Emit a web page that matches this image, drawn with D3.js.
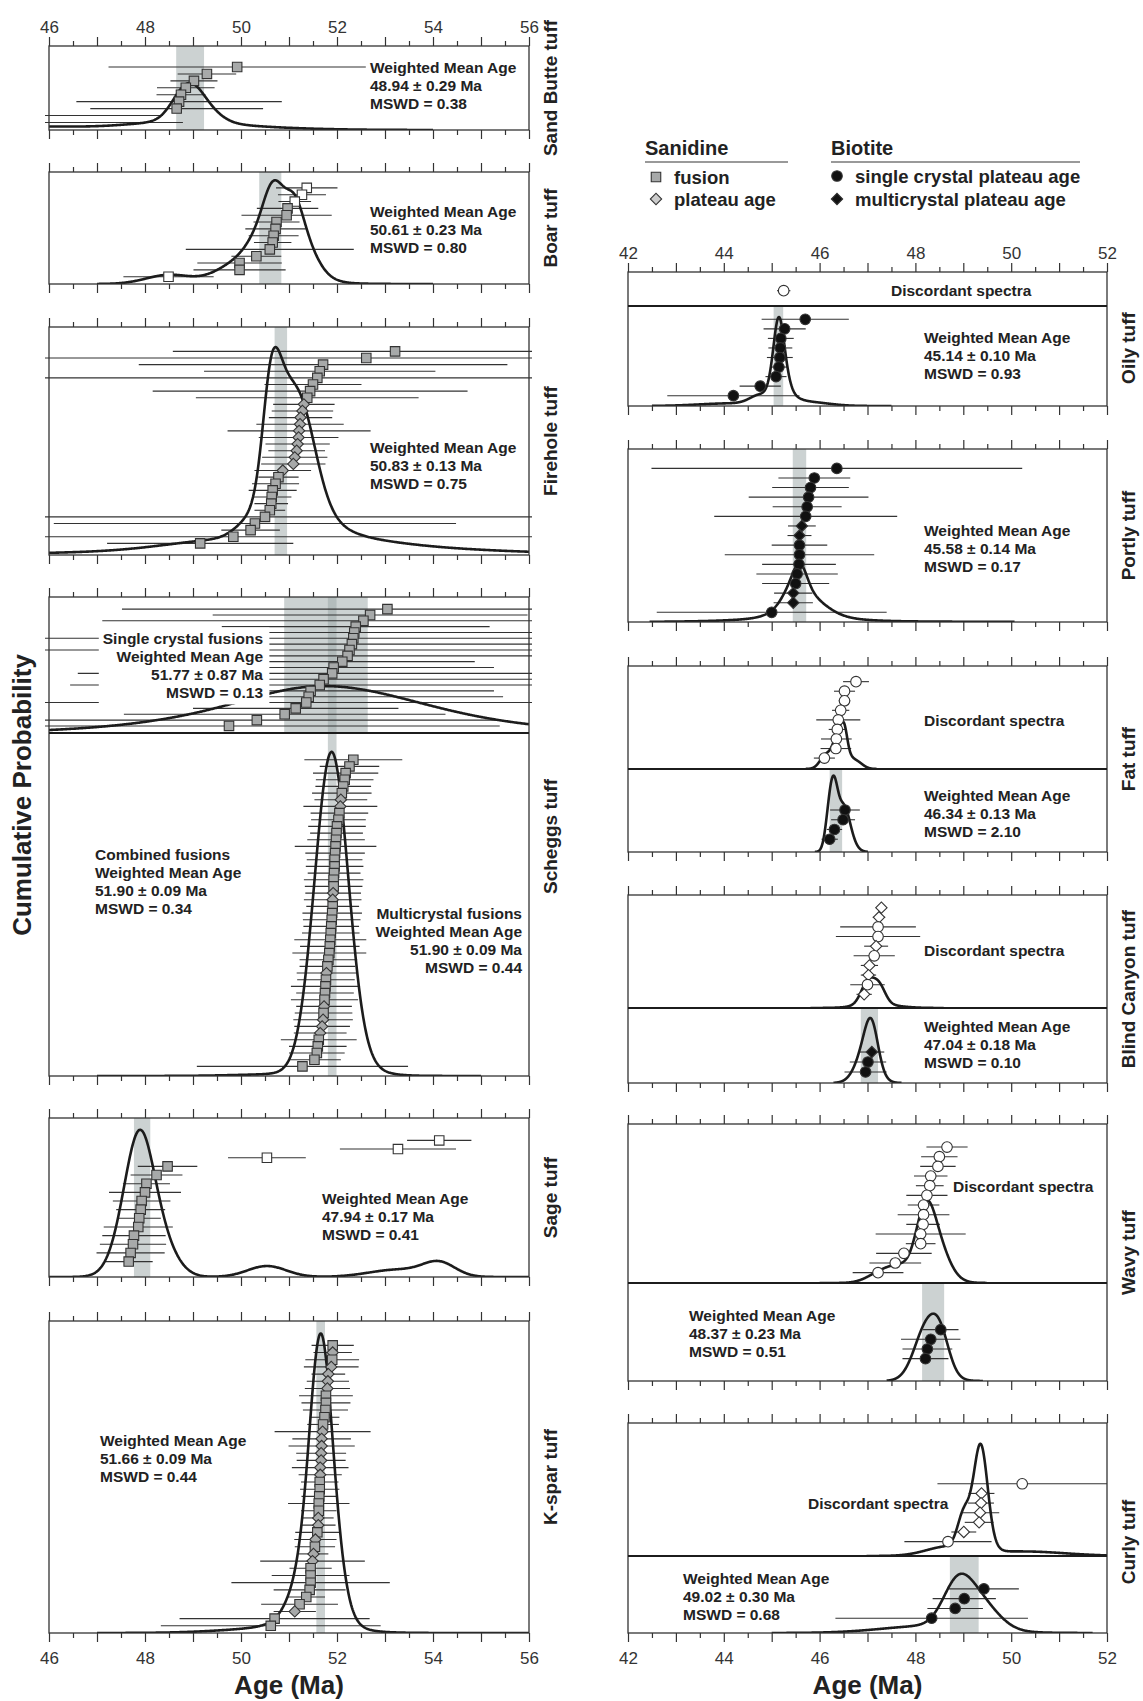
<!DOCTYPE html>
<html lang="en">
<head>
<meta charset="utf-8">
<title>Tuff ages - probability plots</title>
<script src="https://d3js.org/d3.v7.min.js"></script>
<style>
  body { margin: 0; background: #fff; }
  text { font-family: "Liberation Sans", Arial, Helvetica, sans-serif; fill: #222; }
</style>
</head>
<body>
<script>
// ---- data: ages (Ma) and errors, listed top to bottom as stacked in each panel ----
// type codes: g grey square (fusion), d grey diamond (plateau), w white square (excluded),
//             c black circle, k black diamond, o white circle, v white diamond
const sbAge = [49.92, 49.29, 49.02, 48.85, 48.75, 48.71, 48.66, 45.0, 45.3];
const sbErr = [2.68, 0.61, 0.49, 0.60, 0.51, 2.14, 1.80, 3.37, 3.49];
const sbType = "ggggggggg";

const boAge = [51.37, 51.27, 51.12, 50.97, 50.95, 50.74, 50.72, 50.68, 50.66, 50.60, 50.32, 49.97, 49.97, 48.49];
const boErr = [0.64, 0.50, 0.34, 0.64, 0.94, 0.48, 0.63, 0.52, 0.39, 1.75, 0.52, 0.88, 0.96, 0.94];
const boType = "wwwggggggggggw";

const fhAge = [53.21, 52.61, 51.71, 51.64, 51.59, 51.50, 51.44, 51.38, 51.31, 51.28, 51.24, 51.23, 51.21, 51.20, 51.18,
               51.16, 51.12, 51.09, 50.87, 50.78, 50.72, 50.66, 50.64, 50.63, 50.60, 50.50, 50.29, 50.20, 49.84, 49.15];
const fhErr = [4.63, 7, 3.84, 2.41, 7, 1.01, 3.28, 2.32, 0.64, 0.64, 0.66, 0.91, 1.49, 0.83, 0.67,
               0.59, 0.68, 0.67, 0.59, 0.42, 0.49, 0.50, 0.41, 0.35, 0.32, 7, 4.19, 0.61, 7, 1.94];
const fhType = "ggggggggdddddddddddggggggggggg";

const scTopAge = [53.05, 52.69, 52.55, 52.39, 52.36, 52.34, 52.31, 52.26, 52.22, 52.11, 51.93, 51.90, 51.72, 51.64,
                  51.45, 51.41, 51.36, 51.14, 50.91, 50.33, 49.75];
const scTopErr = [5.53, 3.28, 5.44, 2.79, 5.0, 6.5, 5.0, 6.5, 5.0, 2.76, 3.34, 5.3, 4.5, 5.2, 3.82, 4.05, 6, 2.14, 3.35, 5, 5.64];
const scTopType = "ggggggggggggggggggggg";

const scBotAge = [52.34, 52.26, 52.18, 52.16, 52.13, 52.10, 52.08, 52.07, 52.05, 52.03, 52.00, 51.99, 51.98, 51.97, 51.96,
                  51.95, 51.95, 51.94, 51.93, 51.93, 51.92, 51.91, 51.91, 51.90, 51.89, 51.88, 51.87, 51.86, 51.85, 51.84,
                  51.82, 51.80, 51.78, 51.77, 51.76, 51.75, 51.74, 51.73, 51.72, 51.71, 51.69, 51.65, 51.62, 51.60, 51.58,
                  51.53, 51.28];
const scBotErr = [1.02, 0.62, 0.68, 0.6, 0.58, 0.62, 0.55, 0.77, 0.6, 0.57, 0.6, 0.55, 0.6, 0.85, 0.62,
                  0.58, 0.6, 0.55, 0.62, 0.6, 0.58, 0.6, 0.55, 0.62, 0.6, 0.58, 0.6, 0.75, 0.62, 0.77,
                  0.6, 0.58, 0.62, 0.6, 0.72, 0.6, 0.7, 0.58, 0.6, 0.62, 0.58, 0.55, 0.79, 0.6, 0.58,
                  0.55, 2.2];
const scBotType = "ggggggddggggggggggggddggggggggggdggggdgdddggggg";

const sgAge = [54.13, 53.27, 50.54, 48.47, 48.24, 48.03, 48.00, 47.93, 47.91, 47.88, 47.86, 47.77, 47.75, 47.70, 47.66];
const sgErr = [0.67, 1.21, 0.81, 0.62, 0.54, 0.49, 0.75, 0.60, 0.51, 0.45, 0.72, 0.66, 0.69, 0.71, 0.50];
const sgType = "wwwgggggggggggg";

const ksAge = [51.91, 51.91, 51.90, 51.88, 51.82, 51.81, 51.80, 51.77, 51.77, 51.76, 51.74, 51.71, 51.70, 51.68, 51.68,
               51.67, 51.67, 51.65, 51.65, 51.64, 51.64, 51.63, 51.62, 51.62, 51.61, 51.61, 51.59, 51.55, 51.54, 51.51,
               51.49, 51.45, 51.45, 51.45, 51.43, 51.36, 51.22, 51.12, 50.70, 50.62];
const ksErr = [0.44, 0.40, 0.56, 0.57, 0.35, 0.44, 0.47, 0.56, 0.51, 0.47, 0.31, 0.33, 1.0, 0.61, 0.69,
               0.52, 0.51, 0.59, 0.45, 0.39, 0.41, 0.37, 0.64, 0.37, 0.32, 0.36, 0.46, 0.44, 0.42, 0.31,
               1.09, 0.44, 0.81, 1.65, 0.75, 0.39, 0.80, 0.44, 1.98, 2.29];
const ksType = "gdgddddgggggdddddddgggggddgdgddggggggdgg";

const olTopAge = [45.25], olTopErr = [0.14], olTopType = "o";
const olAge = [45.70, 45.27, 45.19, 45.18, 45.17, 45.15, 45.09, 44.76, 44.20];
const olErr = [0.91, 0.44, 0.27, 0.25, 0.27, 0.18, 0.22, 0.43, 1.38];
const olType = "ccccccccc";

const ptAge = [46.36, 45.89, 45.81, 45.77, 45.74, 45.71, 45.63, 45.58, 45.58, 45.58, 45.57, 45.53, 45.50, 45.45, 45.45, 45.00];
const ptErr = [3.87, 0.75, 0.80, 1.25, 0.72, 1.91, 0.29, 0.25, 0.58, 1.56, 0.77, 0.85, 0.70, 0.40, 0.41, 2.40];
const ptType = "cccccckkccccckkc";

const ftTopAge = [46.76, 46.52, 46.52, 46.44, 46.39, 46.37, 46.35, 46.34, 46.10];
const ftTopErr = [0.27, 0.22, 0.12, 0.18, 0.46, 0.18, 0.32, 0.32, 0.22];
const ftTopType = "ooooooooo";
const ftAge = [46.53, 46.49, 46.31, 46.21], ftErr = [0.31, 0.25, 0.16, 0.17], ftType = "cccc";

const bcTopAge = [47.29, 47.24, 47.22, 47.22, 47.18, 47.14, 47.04, 47.02, 47.00, 46.93];
const bcTopErr = [0.10, 0.13, 0.79, 0.88, 0.25, 0.43, 0.18, 0.16, 0.36, 0.16];
const bcTopType = "vvoovovvov";
const bcAge = [47.09, 47.01, 46.96], bcErr = [0.26, 0.38, 0.44], bcType = "kcc";

const wvTopAge = [48.66, 48.50, 48.47, 48.32, 48.30, 48.24, 48.17, 48.17, 48.16, 48.11, 48.11, 47.76, 47.58, 47.22];
const wvTopErr = [0.43, 0.38, 0.37, 0.35, 0.29, 0.43, 0.33, 0.54, 0.35, 0.94, 0.31, 0.58, 0.54, 0.53];
const wvTopType = "oooooooooooooo";
const wvAge = [48.53, 48.32, 48.25, 48.21], wvErr = [0.37, 0.62, 0.52, 0.48], wvType = "cccc";

const cuTopAge = [50.23, 49.38, 49.37, 49.35, 49.33, 49.01, 48.68];
const cuTopErr = [1.77, 0.27, 0.27, 0.40, 0.30, 0.26, 0.91];
const cuTopType = "ovvvvvo";
const cuAge = [49.43, 49.02, 48.83, 48.34], cuErr = [0.73, 0.66, 0.58, 2.01], cuType = "cccc";

// weighted mean results
const resLabel = ["", "", "", "Single crystal fusions", "Combined fusions", "Multicrystal fusions", "", "",
                  "", "", "", "", "", ""];
const resMean = [48.94, 50.61, 50.83, 51.77, 51.90, 51.90, 47.94, 51.66, 45.14, 45.58, 46.34, 47.04, 48.37, 49.02];
const resErr  = [0.29, 0.23, 0.13, 0.87, 0.09, 0.09, 0.17, 0.09, 0.10, 0.14, 0.13, 0.18, 0.23, 0.30];
const resMswd = [0.38, 0.80, 0.75, 0.13, 0.34, 0.44, 0.41, 0.44, 0.93, 0.17, 2.10, 0.10, 0.51, 0.68];

// ---- layout ----
const panels = [
  { label: "Sand Butte tuff", col: 0, edges: [46, 130], labTop: true,
    subs: [{ a: sbAge, e: sbErr, t: sbType, p: [0.75, 0.09], curve: [46, 54], peak: 0.56 }],
    bands: [[0, -1]], notes: [{ res: 0, x: 370, y: 68 }] },
  { label: "Boar tuff", col: 0, edges: [172, 284],
    subs: [{ a: boAge, e: boErr, t: boType, p: [0.858, 0.065], curve: [47, 54], peak: 0.926 }],
    bands: [[1, -1]], notes: [{ res: 1, x: 370, y: 212 }] },
  { label: "Firehole tuff", col: 0, edges: [327, 555],
    subs: [{ a: fhAge, e: fhErr, t: fhType, p: [0.893, 0.051], curve: [46, 56], peak: 0.912 }],
    bands: [[2, -1]], notes: [{ res: 2, x: 370, y: 448 }] },
  { label: "Scheggs tuff", col: 0, edges: [597, 733, 1076],
    subs: [{ a: scTopAge, e: scTopErr, t: scTopType, p: [0.911, 0.052], curve: [46, 56], peak: 0.345 },
           { a: scBotAge, e: scBotErr, t: scBotType, p: [0.922, 0.028], curve: [47, 55], peak: 0.945 }],
    bands: [[3, 0], [4, -1]],
    notes: [{ res: 3, x: 263, y: 639, anchor: "end", bg: true }, { res: 4, x: 95, y: 855 },
            { res: 5, x: 522, y: 914, anchor: "end" }] },
  { label: "Sage tuff", col: 0, edges: [1118, 1277],
    subs: [{ a: sgAge, e: sgErr, t: sgType, p: [0.859, 0.097], curve: [46, 56], peak: 0.926 }],
    bands: [[6, -1]], notes: [{ res: 6, x: 322, y: 1199 }] },
  { label: "K-spar tuff", col: 0, edges: [1321, 1633], labBottom: true,
    subs: [{ a: ksAge, e: ksErr, t: ksType, p: [0.922, 0.023], curve: [47, 56], peak: 0.96 }],
    bands: [[7, -1]], notes: [{ res: 7, x: 100, y: 1441 }] },

  { label: "Oily tuff", col: 1, edges: [272, 306, 406], labTop: true, lblOff: 9,
    subs: [{ a: olTopAge, e: olTopErr, t: olTopType, p: [0.45, 0.45], curve: null },
           { a: olAge, e: olErr, t: olType, p: [0.867, 0.103], curve: [42.5, 47.5], peak: 0.89 }],
    bands: [[8, 1]], notes: [{ txt: "Discordant spectra", x: 891, y: 291 }, { res: 8, x: 924, y: 338 }] },
  { label: "Portly tuff", col: 1, edges: [449, 622],
    subs: [{ a: ptAge, e: ptErr, t: ptType, p: [0.888, 0.056], curve: [42.45, 50.07], peak: 0.34 }],
    bands: [[9, -1]], notes: [{ res: 9, x: 924, y: 531 }] },
  { label: "Fat tuff", col: 1, edges: [666, 769, 852],
    subs: [{ a: ftTopAge, e: ftTopErr, t: ftTopType, p: [0.848, 0.106], curve: [45.71, 47.2], peak: 0.46 },
           { a: ftAge, e: ftErr, t: ftType, p: [0.506, 0.154], curve: [45.9, 47.01], peak: 0.92 }],
    bands: [[10, 1]], notes: [{ txt: "Discordant spectra", x: 924, y: 721 }, { res: 10, x: 924, y: 796 }] },
  { label: "Blind Canyon tuff", col: 1, edges: [895, 1008, 1083],
    subs: [{ a: bcTopAge, e: bcTopErr, t: bcTopType, p: [0.888, 0.121], curve: [45.81, 48.59], peak: 0.27, bw: 0.12 },
           { a: bcAge, e: bcErr, t: bcType, p: [0.413, 0.147], curve: [46.29, 47.71], peak: 0.867 }],
    bands: [[11, 1]], notes: [{ txt: "Discordant spectra", x: 924, y: 951 }, { res: 11, x: 924, y: 1027 }] },
  { label: "Wavy tuff", col: 1, edges: [1124, 1283, 1381],
    subs: [{ a: wvTopAge, e: wvTopErr, t: wvTopType, p: [0.855, 0.065], curve: [46.0, 49.49], peak: 0.52 },
           { a: wvAge, e: wvErr, t: wvType, p: [0.524, 0.228], curve: [47.4, 49.41], peak: 0.687 }],
    bands: [[12, 1]], notes: [{ txt: "Discordant spectra", x: 953, y: 1187 }, { res: 12, x: 689, y: 1316 }] },
  { label: "Curly tuff", col: 1, edges: [1423, 1556, 1633], labBottom: true, lblOff: 14,
    subs: [{ a: cuTopAge, e: cuTopErr, t: cuTopType, p: [0.543, 0.108], curve: [46.98, 52], peak: 0.844 },
           { a: cuAge, e: cuErr, t: cuType, p: [0.573, 0.192], curve: [45.0, 51.7], peak: 0.77 }],
    bands: [[13, 1]], notes: [{ txt: "Discordant spectra", x: 808, y: 1504 }, { res: 13, x: 683, y: 1579 }] }
];

const GREY = "#a7a9a9";
const sym = {
  g: { type: d3.symbolSquare, size: 90, fill: GREY, rot: 0 },
  w: { type: d3.symbolSquare, size: 90, fill: "#fff", rot: 0 },
  d: { type: d3.symbolSquare, size: 64, fill: GREY, rot: 45 },
  v: { type: d3.symbolSquare, size: 64, fill: "#fff", rot: 45 },
  k: { type: d3.symbolSquare, size: 64, fill: "#111", rot: 45 },
  c: { type: d3.symbolCircle, size: 88, fill: "#111", rot: 0 },
  o: { type: d3.symbolCircle, size: 88, fill: "#fff", rot: 0 }
};

// probability density: sum of gaussians, error bars taken as 2 sigma
function density(ages, errs, lo, hi, bw) {
  return d3.range(0, 601).map(i => {
    const t = lo + (hi - lo) * i / 600;
    const s = d3.sum(ages, (a, j) => {
      const sd = Math.max(errs[j] / 2, bw || 0);
      return Math.exp(-0.5 * ((t - a) / sd) ** 2) / sd;
    });
    return [t, s];
  });
}

const fmt = d3.format(".2f");
const svg = d3.select("body").append("svg").attr("width", 1143).attr("height", 1701);
const xScales = [d3.scaleLinear().domain([46, 56]).range([49, 529]),
                 d3.scaleLinear().domain([42, 52]).range([628, 1107])];

panels.forEach((P, pi) => {
  const x = xScales[P.col];
  const [x0, x1] = x.range(), [d0, d1] = x.domain();
  const E = P.edges, top = E[0], bot = E[E.length - 1];
  const g = svg.append("g");

  // weighted mean bands
  P.bands.forEach(([r, s]) => {
    const yt = s < 0 ? top : E[s], yb = s < 0 ? bot : E[s + 1];
    const bx0 = x(resMean[r] - resErr[r]), bx1 = x(resMean[r] + resErr[r]);
    g.append("rect").attr("x", bx0).attr("width", bx1 - bx0).attr("y", yt).attr("height", yb - yt)
      .attr("fill", "#99a5a5").attr("fill-opacity", 0.5);
  });

  const layers = P.subs.map((S, si) => ({
    S, si,
    y: d3.scaleLinear().domain([0, 1]).range([E[si + 1], E[si]]),
    rank: d3.scaleLinear().domain([0, Math.max(1, S.a.length - 1)]).range(S.p)
  }));

  // error bars
  layers.forEach(({ S, y, rank }) => {
    g.append("g").selectAll("line").data(S.a).join("line")
      .attr("x1", (a, i) => Math.max(x0 - 4, x(a - S.e[i])))
      .attr("x2", (a, i) => Math.min(x1 + 3, x(a + S.e[i])))
      .attr("y1", (a, i) => y(rank(i)))
      .attr("y2", (a, i) => y(rank(i)))
      .attr("stroke", "#333").attr("stroke-width", 1.1);
  });

  // probability curves
  layers.forEach(({ S, si, y }) => {
    if (!S.curve) return;
    const id = `clip${pi}_${si}`;
    svg.append("clipPath").attr("id", id).append("rect")
      .attr("x", x0).attr("y", E[si] - 1).attr("width", x1 - x0).attr("height", E[si + 1] - E[si] + 1);
    const pts = density(S.a, S.e, S.curve[0], S.curve[1], S.bw);
    const mx = d3.max(pts, d => d[1]);
    g.append("path").attr("clip-path", `url(#${id})`)
      .attr("d", d3.line().x(d => x(d[0])).y(d => y(d[1] / mx * S.peak))(pts))
      .attr("fill", "none").attr("stroke", "#1c1c1c").attr("stroke-width", 2.6)
      .attr("stroke-linejoin", "round");
  });

  // annotations
  P.notes.forEach(N => {
    const lines = N.txt ? [N.txt] : [resLabel[N.res], "Weighted Mean Age",
      `${fmt(resMean[N.res])} ± ${fmt(resErr[N.res])} Ma`, `MSWD = ${fmt(resMswd[N.res])}`].filter(Boolean);
    const tg = g.append("g");
    const t = tg.append("text").attr("font-size", 15.5).attr("font-weight", "bold")
      .attr("text-anchor", N.anchor || "start");
    lines.forEach((l, i) => t.append("tspan").attr("x", N.x).attr("y", N.y + i * 18).attr("dy", "0.35em").text(l));
    if (N.bg) {
      const b = t.node().getBBox();
      tg.insert("rect", "text").attr("x", b.x - 4).attr("y", b.y - 3)
        .attr("width", b.width + 10).attr("height", b.height + 6).attr("fill", "#fff");
    }
  });

  // markers
  layers.forEach(({ S, y, rank }) => {
    S.a.forEach((a, i) => {
      if (a < d0 || a > d1) return;
      const m = sym[S.t[i]];
      g.append("path").attr("d", d3.symbol().type(m.type).size(m.size)())
        .attr("transform", `translate(${x(a)},${y(rank(i))}) rotate(${m.rot})`)
        .attr("fill", m.fill).attr("stroke", "#333").attr("stroke-width", 1.1);
    });
  });

  // frame, dividers, ticks
  g.append("rect").attr("x", x0).attr("y", top).attr("width", x1 - x0).attr("height", bot - top)
    .attr("fill", "none").attr("stroke", "#333").attr("stroke-width", 1.3);
  E.slice(1, -1).forEach(e => g.append("line").attr("x1", x0).attr("x2", x1).attr("y1", e).attr("y2", e)
    .attr("stroke", "#1c1c1c").attr("stroke-width", 2.2));

  const major = d3.range(d0, d1 + 0.01, 1), minor = d3.range(d0 + 0.5, d1, 1);
  [[top, d3.axisTop, P.labTop, 4], [bot, d3.axisBottom, P.labBottom, 10]].forEach(([yy, axisFn, lab, pad]) => {
    const ga = g.append("g").attr("transform", `translate(0,${yy})`).attr("color", "#333")
      .call(axisFn(x).tickValues(major).tickSize(9).tickPadding(pad)
        .tickFormat(d => lab && d % 2 === 0 ? d : ""));
    const gb = g.append("g").attr("transform", `translate(0,${yy})`).attr("color", "#333")
      .call(axisFn(x).tickValues(minor).tickSize(5).tickFormat(""));
    [ga, gb].forEach(a => {
      a.select(".domain").remove();
      a.selectAll("line").attr("stroke-width", 1.2);
      a.selectAll("text").attr("font-size", 17).attr("font-family", null).style("fill", "#333");
    });
  });

  // tuff label
  svg.append("text")
    .attr("transform", `translate(${P.col ? 1128 : 550},${(top + bot) / 2 + (P.lblOff || 0)}) rotate(-90)`)
    .attr("text-anchor", "middle").attr("dy", "0.35em")
    .attr("font-size", 19).attr("font-weight", "bold").text(P.label);
});

// axis titles
svg.append("text").attr("transform", "translate(22,795) rotate(-90)").attr("text-anchor", "middle")
  .attr("dy", "0.35em").attr("font-size", 26).attr("font-weight", "bold").text("Cumulative Probability");
[289, 867.5].forEach(cx => svg.append("text").attr("x", cx).attr("y", 1685).attr("dy", "0.35em")
  .attr("text-anchor", "middle").attr("font-size", 26).attr("font-weight", "bold").text("Age (Ma)"));

// legend
const lg = svg.append("g");
[["Sanidine", 645, 788], ["Biotite", 831, 1080]].forEach(([t, lx, rx]) => {
  lg.append("text").attr("x", lx).attr("y", 148).attr("dy", "0.35em").attr("font-size", 20)
    .attr("font-weight", "bold").text(t);
  lg.append("line").attr("x1", lx).attr("x2", rx).attr("y1", 162).attr("y2", 162)
    .attr("stroke", "#777").attr("stroke-width", 1.5);
});
[["g", 656, 177, "fusion"], ["d", 656, 199, "plateau age"],
 ["c", 837, 176, "single crystal plateau age"], ["k", 837, 199, "multicrystal plateau age"]].forEach(([k, mx, my, t]) => {
  const m = sym[k];
  lg.append("path").attr("d", d3.symbol().type(m.type).size(m.size)())
    .attr("transform", `translate(${mx},${my}) rotate(${m.rot})`)
    .attr("fill", k === "g" ? GREY : k === "d" ? "#ccc" : m.fill).attr("stroke", "#333").attr("stroke-width", 1.1);
  lg.append("text").attr("x", mx + 18).attr("y", my + 1).attr("dy", "0.35em").attr("font-size", 18.5)
    .attr("font-weight", "bold").text(t);
});
</script>
</body>
</html>
